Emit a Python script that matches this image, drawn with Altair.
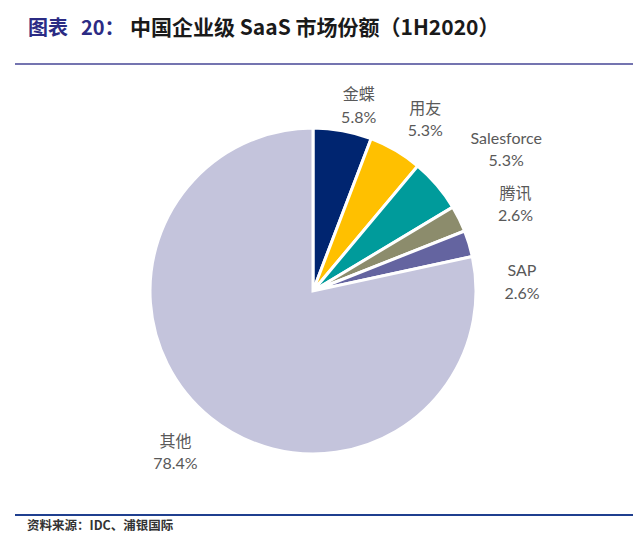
import altair as alt
import pandas as pd

categories = ["金蝶", "用友", "Salesforce", "腾讯", "SAP", "其他"]
shares = [5.8, 5.3, 5.3, 2.6, 2.6, 78.4]
share_labels = ["5.8%", "5.3%", "5.3%", "2.6%", "2.6%", "78.4%"]
colors = ["#002570", "#FFC000", "#009B9B", "#8C8C6C", "#6464A0", "#C4C4DC"]

title_word = "图表"
title_num = "20："
title_main = "中国企业级 SaaS 市场份额（1H2020）"
source_text = "资料来源：IDC、浦银国际"

df = pd.DataFrame({"cat": categories, "share": shares, "pct": share_labels,
                   "idx": list(range(len(categories)))})
one = pd.DataFrame({"a": [0]})

W, H = 625, 533
CX, CY = 305, 283
R = 163
LABEL_R = 208
FONT = "Lato, 'Noto Sans CJK SC', sans-serif"
CJK = "'Noto Sans CJK SC', sans-serif"

theta_dom = alt.Scale(domain=[0, 100])

pie = alt.Chart(df).mark_arc(outerRadius=R, stroke="white", strokeWidth=3).encode(
    theta=alt.Theta("share:Q", stack=True, scale=theta_dom),
    color=alt.Color("cat:N", scale=alt.Scale(domain=categories, range=colors), legend=None),
    order=alt.Order("idx:Q"),
    x=alt.value(CX), y=alt.value(CY),
)

lab_base = alt.Chart(df).transform_window(
    cum="sum(share)", sort=[alt.SortField("idx")], frame=[None, 0]
).transform_calculate(
    mid="datum.cum - datum.share / 2",
    label="datum.cat + '\\n' + datum.pct",
)

offsets = {
    "金蝶": (8, 9),
    "用友": (7, -3),
    "Salesforce": (35, -17),
    "腾讯": (16, -5),
    "SAP": (10, 41),
    "其他": (-7, -11),
}

label_layers = []
for c in categories:
    ox, oy = offsets[c]
    label_layers.append(
        lab_base.transform_filter(alt.datum.cat == c).mark_text(
            radius=LABEL_R, dx=ox, dy=oy, lineBreak="\n", lineHeight=22.5,
            fontSize=16, color="#595959", font=FONT, align="center", baseline="middle",
        ).encode(
            theta=alt.Theta("mid:Q", stack=False, scale=theta_dom),
            text="label:N",
            x=alt.value(CX), y=alt.value(CY),
        )
    )

TY = 21
t0 = alt.Chart(one).mark_text(align="left", baseline="middle", fontSize=20,
                              fontWeight="bold", color="#2B2B84", font=CJK).encode(
    x=alt.value(20), y=alt.value(TY), text=alt.value(title_word))
t1 = alt.Chart(one).mark_text(align="left", baseline="middle", fontSize=20,
                              fontWeight="bold", color="#2B2B84", font=CJK).encode(
    x=alt.value(73), y=alt.value(TY), text=alt.value(title_num))
t2 = alt.Chart(one).mark_text(align="left", baseline="middle", fontSize=21,
                              fontWeight="bold", color="#1A1A1A", font=CJK).encode(
    x=alt.value(122), y=alt.value(TY), text=alt.value(title_main))

rule_top = alt.Chart(one).mark_rule(color="#7474B0", strokeWidth=2).encode(
    x=alt.value(7), x2=alt.value(625), y=alt.value(56))
rule_bot = alt.Chart(one).mark_rule(color="#1F3F8F", strokeWidth=2).encode(
    x=alt.value(7), x2=alt.value(625), y=alt.value(507))

src = alt.Chart(one).mark_text(align="left", baseline="middle", fontSize=12.5,
                               fontWeight="bold", color="#333333", font=CJK).encode(
    x=alt.value(19), y=alt.value(518), text=alt.value(source_text))

chart = alt.layer(rule_top, rule_bot, pie, *label_layers, t0, t1, t2, src).properties(
    width=W, height=H, autosize=alt.AutoSizeParams(type="none"), padding=0
).configure_view(stroke=None)

chart.save("out.html", embed_options={"renderer": "svg", "actions": False})
